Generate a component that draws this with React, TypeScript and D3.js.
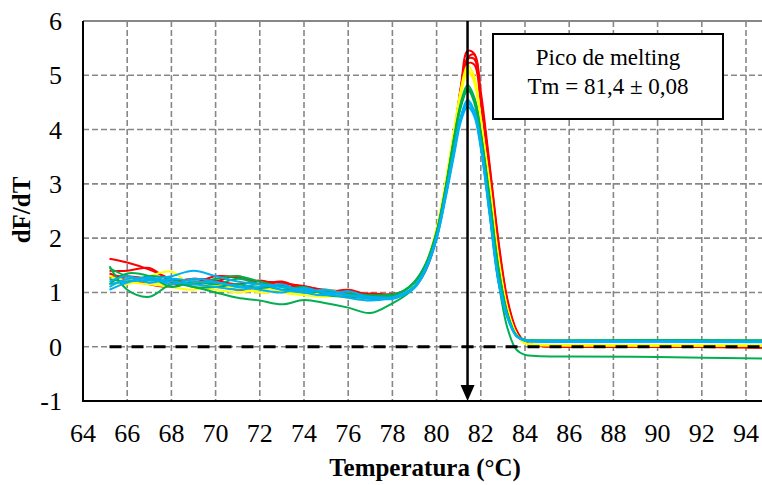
import React, { useRef, useEffect } from "react";
import * as d3 from "d3";

/* temperature sample points (°C) shared by every run */
const TEMPS = [
  65.2, 66, 67, 68, 69, 70, 71, 72, 73, 74, 75, 76, 77, 78, 78.5, 79, 79.5, 80,
  80.4, 80.8, 81.1, 81.4, 81.7, 82, 82.4, 82.8, 83.2, 83.6, 84, 84.5, 86, 90, 95,
];

/* dF/dT per run, grouped by colour */
const RED_RUNS = [
  [1.62, 1.55, 1.42, 1.25, 1.18, 1.3, 1.28, 1.2, 1.18, 1.1, 1.05, 1.0, 0.95, 0.95, 1.0, 1.12, 1.42, 2.05, 2.85, 3.9, 4.8, 5.45, 5.4, 4.6, 3.3, 1.9, 0.85, 0.3, 0.08, 0.02, 0.0, 0.0, -0.02],
  [1.4, 1.4, 1.45, 1.2, 1.15, 1.2, 1.3, 1.15, 1.2, 1.05, 1.0, 1.05, 0.95, 0.97, 1.02, 1.15, 1.45, 2.1, 2.9, 3.95, 4.75, 5.3, 5.3, 4.55, 3.25, 1.85, 0.82, 0.28, 0.07, 0.02, 0.0, 0.0, 0.0],
  [1.28, 1.3, 1.25, 1.2, 1.25, 1.22, 1.15, 1.22, 1.12, 1.08, 1.0, 0.98, 0.92, 0.93, 0.98, 1.1, 1.4, 2.0, 2.8, 3.85, 4.7, 5.22, 5.2, 4.5, 3.2, 1.82, 0.8, 0.27, 0.07, 0.02, 0.01, 0.0, 0.0],
  [1.35, 1.25, 1.15, 1.1, 1.2, 1.15, 1.05, 1.1, 1.15, 1.12, 1.02, 0.95, 0.98, 0.96, 1.0, 1.12, 1.42, 2.05, 2.85, 3.88, 4.78, 5.32, 5.38, 4.7, 3.35, 1.95, 0.88, 0.32, 0.09, 0.02, 0.0, 0.0, -0.01],
];
const YELLOW_RUNS = [
  [1.2, 1.15, 1.3, 1.38, 1.1, 1.05, 1.0, 1.05, 1.1, 1.0, 0.95, 0.9, 0.88, 0.93, 1.0, 1.15, 1.5, 2.15, 3.0, 4.0, 4.75, 5.18, 4.98, 4.2, 3.0, 1.65, 0.72, 0.25, 0.07, 0.04, 0.03, 0.03, 0.02],
  [1.1, 1.25, 1.2, 1.15, 1.2, 1.12, 1.08, 1.0, 1.02, 0.98, 1.05, 0.95, 0.9, 0.92, 0.98, 1.13, 1.48, 2.12, 2.95, 3.95, 4.65, 5.05, 4.9, 4.15, 2.95, 1.6, 0.7, 0.24, 0.06, 0.03, 0.03, 0.02, 0.02],
  [1.3, 1.2, 1.15, 1.1, 1.05, 1.15, 1.1, 1.12, 1.0, 0.95, 0.92, 0.98, 0.9, 0.94, 1.0, 1.16, 1.52, 2.18, 3.02, 4.02, 4.7, 5.1, 4.88, 4.1, 2.9, 1.58, 0.68, 0.23, 0.06, 0.03, 0.02, 0.02, 0.02],
];
const GREEN_RUNS = [
  [1.45, 1.3, 1.25, 1.2, 1.15, 1.25, 1.3, 1.2, 1.1, 1.05, 1.0, 0.98, 0.95, 0.96, 1.03, 1.2, 1.52, 2.12, 2.92, 3.88, 4.5, 4.82, 4.6, 3.95, 2.75, 1.45, 0.62, 0.22, 0.13, 0.12, 0.12, 0.12, 0.12],
  [1.15, 1.35, 1.3, 1.1, 1.2, 1.15, 1.25, 1.15, 1.05, 1.1, 0.95, 0.92, 0.9, 0.94, 1.02, 1.18, 1.5, 2.1, 2.88, 3.82, 4.42, 4.72, 4.55, 3.9, 2.7, 1.42, 0.6, 0.21, 0.12, 0.11, 0.11, 0.12, 0.11],
  [1.25, 1.2, 1.3, 1.25, 1.1, 1.1, 1.15, 1.08, 1.12, 1.0, 1.02, 0.95, 0.93, 0.95, 1.03, 1.19, 1.51, 2.11, 2.9, 3.85, 4.45, 4.76, 4.58, 3.92, 2.72, 1.43, 0.61, 0.21, 0.12, 0.11, 0.1, 0.11, 0.1],
  [1.48, 1.05, 0.92, 1.15, 1.1, 1.0, 0.9, 0.85, 0.78, 0.86, 0.8, 0.72, 0.62, 0.8, 0.92, 1.1, 1.45, 2.08, 2.88, 3.85, 4.45, 4.75, 4.5, 3.8, 2.55, 1.2, 0.35, -0.05, -0.15, -0.17, -0.18, -0.19, -0.22],
];
const BLUE_RUNS = [
  [1.1, 1.25, 1.25, 1.3, 1.4, 1.3, 1.2, 1.15, 1.1, 1.05, 1.0, 0.95, 0.88, 0.9, 0.96, 1.1, 1.42, 2.0, 2.75, 3.6, 4.2, 4.48, 4.3, 3.7, 2.45, 1.2, 0.55, 0.2, 0.12, 0.1, 0.09, 0.1, 0.09],
  [1.15, 1.2, 1.22, 1.2, 1.15, 1.1, 1.05, 1.1, 1.15, 1.0, 0.95, 1.02, 0.9, 0.88, 0.95, 1.08, 1.4, 1.98, 2.72, 3.55, 4.15, 4.42, 4.25, 3.65, 2.42, 1.18, 0.54, 0.2, 0.11, 0.09, 0.09, 0.09, 0.08],
  [1.2, 1.3, 1.18, 1.25, 1.2, 1.18, 1.12, 1.05, 1.0, 1.08, 0.98, 0.9, 0.85, 0.9, 0.97, 1.1, 1.43, 2.02, 2.78, 3.62, 4.22, 4.52, 4.32, 3.72, 2.48, 1.22, 0.56, 0.2, 0.11, 0.1, 0.1, 0.1, 0.09],
  [1.05, 1.18, 1.28, 1.15, 1.25, 1.2, 1.1, 1.15, 1.05, 1.0, 1.05, 0.95, 0.92, 0.91, 0.98, 1.12, 1.45, 2.03, 2.8, 3.65, 4.25, 4.55, 4.35, 3.75, 2.5, 1.25, 0.57, 0.21, 0.12, 0.1, 0.1, 0.1, 0.09],
];

const X_TICKS = [64, 66, 68, 70, 72, 74, 76, 78, 80, 82, 84, 86, 88, 90, 92, 94];
const Y_TICKS = [-1, 0, 1, 2, 3, 4, 5, 6];
const ZERO_LINE = [65.2, 95];
const TM = 81.4;
const BOX_LINES = ["Pico de melting", "Tm = 81,4 \u00B1 0,08"];

const FONT = "Liberation Serif, Times New Roman, DejaVu Serif, serif";

export default function App() {
  const svgRef = useRef<SVGSVGElement>(null);

  useEffect(() => {
    /* ---- layout ---- */
    const W = 762;
    const H = 485;
    const M = { top: 21, left: 83, bottom: 84 };

    /* ---- scales ---- */
    const x = d3.scaleLinear().domain([64, 95]).range([M.left, M.left + 31 * 22.1]);
    const y = d3.scaleLinear().domain([-1, 6]).range([H - M.bottom, M.top]);

    const svg = d3.select(svgRef.current).attr("viewBox", `0 0 ${W} ${H}`);
    svg.selectAll("*").remove();

    svg.append("rect").attr("width", W).attr("height", H).attr("fill", "#fff");

    /* ---- grid ---- */
    const grid = svg.append("g").attr("stroke", "#878787").attr("stroke-width", 1.6);
    grid
      .selectAll("line.v")
      .data(X_TICKS.filter((t) => t > 64))
      .enter()
      .append("line")
      .attr("x1", (d) => x(d))
      .attr("x2", (d) => x(d))
      .attr("y1", y(6))
      .attr("y2", y(-1))
      .attr("stroke-dasharray", "6,3");
    grid
      .selectAll("line.h")
      .data(Y_TICKS.filter((t) => t > -1 && t < 6))
      .enter()
      .append("line")
      .attr("x1", x(64))
      .attr("x2", W)
      .attr("y1", (d) => y(d))
      .attr("y2", (d) => y(d))
      .attr("stroke-dasharray", "6,3");
    grid
      .append("line")
      .attr("x1", x(64))
      .attr("x2", W)
      .attr("y1", y(6))
      .attr("y2", y(6))
      .attr("stroke-width", 2);

    /* ---- curves ---- */
    const line = d3
      .line<number>()
      .x((_, i) => x(TEMPS[i]))
      .y((d) => y(d))
      .curve(d3.curveCatmullRom.alpha(0.5));

    const groups: [number[][], string][] = [
      [RED_RUNS, "#FF0000"],
      [YELLOW_RUNS, "#FFFF00"],
      [GREEN_RUNS, "#00B050"],
      [BLUE_RUNS, "#00B0F0"],
    ];
    groups.forEach(([runs, color]) => {
      svg
        .append("g")
        .selectAll("path")
        .data(runs)
        .enter()
        .append("path")
        .attr("d", (d) => line(d))
        .attr("fill", "none")
        .attr("stroke", color)
        .attr("stroke-width", 2);
    });

    /* ---- zero reference line ---- */
    svg
      .append("line")
      .attr("x1", x(ZERO_LINE[0]))
      .attr("x2", x(ZERO_LINE[1]))
      .attr("y1", y(0))
      .attr("y2", y(0))
      .attr("stroke", "#000")
      .attr("stroke-width", 3)
      .attr("stroke-dasharray", "12,10");

    /* ---- axes lines ---- */
    svg
      .append("line")
      .attr("x1", x(64))
      .attr("x2", x(64))
      .attr("y1", y(6))
      .attr("y2", y(-1) + 1)
      .attr("stroke", "#000")
      .attr("stroke-width", 2);
    svg
      .append("line")
      .attr("x1", x(64))
      .attr("x2", W)
      .attr("y1", y(-1))
      .attr("y2", y(-1))
      .attr("stroke", "#000")
      .attr("stroke-width", 2);

    /* ---- Tm arrow ---- */
    svg
      .append("line")
      .attr("x1", x(TM))
      .attr("x2", x(TM))
      .attr("y1", y(6))
      .attr("y2", y(-1) - 12)
      .attr("stroke", "#000")
      .attr("stroke-width", 2.5);
    svg
      .append("path")
      .attr(
        "d",
        `M${x(TM) - 7},${y(-1) - 16} L${x(TM) + 7},${y(-1) - 16} L${x(TM)},${y(-1)} Z`
      )
      .attr("fill", "#000");

    /* ---- tick labels ---- */
    svg
      .append("g")
      .selectAll("text")
      .data(X_TICKS)
      .enter()
      .append("text")
      .attr("x", (d) => x(d))
      .attr("y", y(-1) + 41)
      .attr("text-anchor", "middle")
      .attr("font-family", FONT)
      .attr("font-size", 26)
      .text((d) => d);
    svg
      .append("g")
      .selectAll("text")
      .data(Y_TICKS)
      .enter()
      .append("text")
      .attr("x", 62)
      .attr("y", (d) => y(d) + 9)
      .attr("text-anchor", "end")
      .attr("font-family", FONT)
      .attr("font-size", 26)
      .text((d) => d);

    /* ---- axis titles ---- */
    svg
      .append("text")
      .attr("x", 425)
      .attr("y", 476)
      .attr("text-anchor", "middle")
      .attr("font-family", FONT)
      .attr("font-size", 25)
      .attr("font-weight", "bold")
      .text("Temperatura (\u00B0C)");
    svg
      .append("text")
      .attr("transform", `translate(30,210) rotate(-90)`)
      .attr("text-anchor", "middle")
      .attr("font-family", FONT)
      .attr("font-size", 25)
      .attr("font-weight", "bold")
      .text("dF/dT");

    /* ---- annotation box ---- */
    svg
      .append("rect")
      .attr("x", 493)
      .attr("y", 34)
      .attr("width", 230)
      .attr("height", 85)
      .attr("fill", "#fff")
      .attr("stroke", "#000")
      .attr("stroke-width", 2);
    svg
      .append("g")
      .selectAll("text")
      .data(BOX_LINES)
      .enter()
      .append("text")
      .attr("x", 608)
      .attr("y", (_, i) => 65 + i * 29)
      .attr("text-anchor", "middle")
      .attr("font-family", FONT)
      .attr("font-size", 23)
      .text((d) => d);
  }, []);

  return (
    <svg
      ref={svgRef}
      width={762}
      height={485}
      style={{ position: "absolute", left: 0, top: 0 }}
    />
  );
}
